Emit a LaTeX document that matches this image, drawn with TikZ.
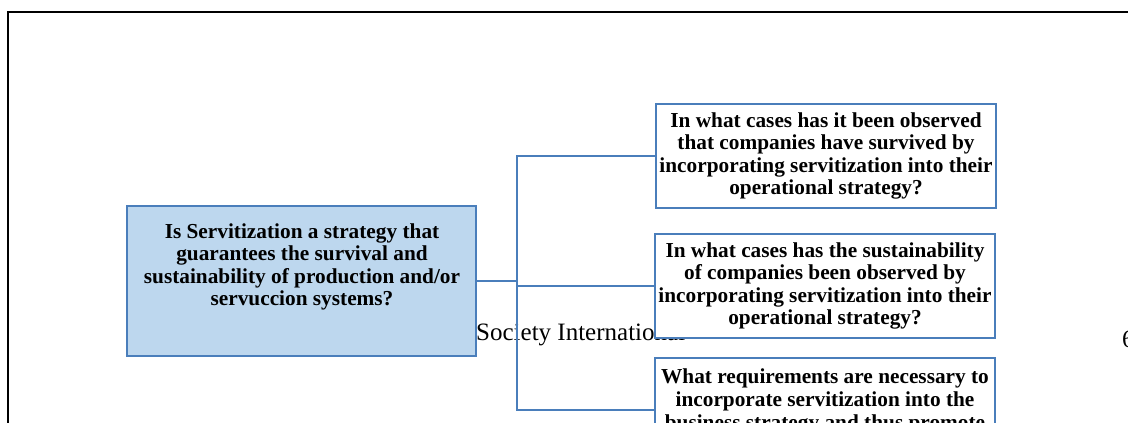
\documentclass[tikz,border=0pt]{standalone}
\usepackage{fontspec}
\setmainfont{Liberation Serif}
\definecolor{boxblue}{RGB}{74,126,187}
\definecolor{mainfill}{RGB}{189,215,238}
\begin{document}
\begin{tikzpicture}[x=1pt,y=-1pt,
  qfont/.style={font=\bfseries\fontsize{21.3}{22.6}\selectfont, align=center, inner sep=0pt},
  qbox/.style={draw=boxblue, line width=2.4pt, fill=white, minimum width=340pt, minimum height=104pt, inner sep=0pt, qfont},
  conn/.style={draw=boxblue, line width=2.4pt}]
\useasboundingbox (0,0) rectangle (1128,423);
\draw[line width=2pt] (8,424) -- (8,12) -- (1130,12);
\node[anchor=base west, inner sep=0pt, font=\fontsize{25}{28}\selectfont] (soc) at (476,340) {Society International};
\node[anchor=base west, inner sep=0pt, font=\fontsize{25}{28}\selectfont] (pg) at (1122,347) {6};
\node[draw=boxblue, line width=2.4pt, fill=mainfill, minimum width=349pt, minimum height=150pt, inner sep=0pt] (main) at (301.5,281) {};
\node[qfont] (mainq) at (302,267) {Is Servitization a strategy that\\guarantees the survival and\\sustainability of production and/or\\servuccion systems?};
\node[qbox] (top) at (826,156) {In what cases has it been observed\\that companies have survived by\\incorporating servitization into their\\operational strategy?};
\node[qbox] (mid) at (825,286) {In what cases has the sustainability\\of companies been observed by\\incorporating servitization into their\\operational strategy?};
\node[qbox] (bot) at (825,410) {};
\node[qfont, anchor=north] (botq) at (825,369) {What requirements are necessary to\\incorporate servitization into the\\business strategy and thus promote};
\draw[conn] (main.east) -- ++(39.5,0) |- (top.west);
\draw[conn] (main.east) -- ++(39.5,0) |- (mid.west);
\draw[conn] (main.east) -- ++(39.5,0) |- (bot.west);
\end{tikzpicture}
\end{document}
